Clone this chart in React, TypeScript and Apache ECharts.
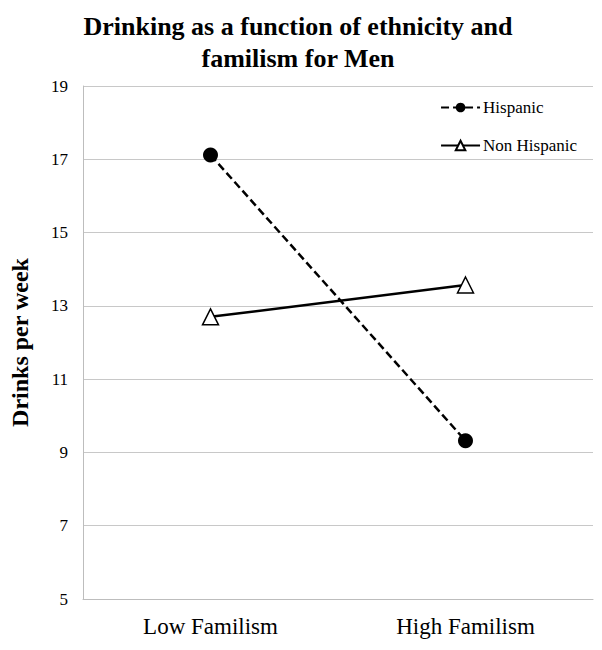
import React, { useEffect, useRef } from "react";
import * as echarts from "echarts";

const categories = ["Low Familism", "High Familism"];
const hispanic = [17.12, 9.32];
const nonHispanic = [12.7, 13.57];
const yTicks = { min: 5, max: 19, interval: 2 };

export default function App() {
  const ref = useRef<HTMLDivElement>(null);
  useEffect(() => {
    const chart = echarts.init(ref.current!, null, { renderer: "svg" });
    const font = "Liberation Serif";
    chart.setOption({
      animation: false,
      backgroundColor: "#ffffff",
      textStyle: { fontFamily: font },
      title: {
        text: "Drinking as a function of ethnicity and\nfamilism for Men",
        left: 293,
        textAlign: "center",
        top: 5,
        textStyle: { fontFamily: font, fontSize: 26, fontWeight: "bold", color: "#000", lineHeight: 32 },
      },
      legend: {
        orient: "vertical",
        right: 20,
        top: 94,
        itemGap: 21,
        itemWidth: 39,
        itemHeight: 12,
        textStyle: { fontFamily: font, fontSize: 17, color: "#000", padding: [0, 0, 0, -2] },
        data: ["Hispanic", "Non Hispanic"],
      },
      grid: { left: 67, right: 9, top: 86, bottom: 51, containLabel: false },
      xAxis: {
        type: "category",
        data: categories,
        boundaryGap: true,
        axisLine: { lineStyle: { color: "#bdbdbd", width: 1 } },
        axisTick: { show: false },
        axisLabel: { fontFamily: font, fontSize: 23, color: "#000", margin: 16 },
      },
      yAxis: {
        type: "value",
        min: yTicks.min,
        max: yTicks.max,
        interval: yTicks.interval,
        name: "Drinks per week",
        nameLocation: "middle",
        nameGap: 51,
        nameTextStyle: { fontFamily: font, fontSize: 24, fontWeight: "bold", color: "#000" },
        axisLine: { show: true, lineStyle: { color: "#bdbdbd", width: 1 } },
        axisTick: { show: false },
        axisLabel: { fontFamily: font, fontSize: 17, color: "#000", margin: 15 },
        splitLine: { lineStyle: { color: "#c8c8c8", width: 1 } },
      },
      series: [
        {
          name: "Hispanic",
          type: "line",
          data: hispanic,
          symbol: "circle",
          symbolSize: 15,
          itemStyle: { color: "#000" },
          lineStyle: { color: "#000", width: 2.5, type: [8, 4] },
        },
        {
          name: "Non Hispanic",
          type: "line",
          data: nonHispanic,
          symbol: "triangle",
          symbolSize: 16,
          itemStyle: { color: "#fff", borderColor: "#000", borderWidth: 1.5 },
          lineStyle: { color: "#000", width: 2.5 },
        },
      ],
    });
    return () => chart.dispose();
  }, []);
  return <div ref={ref} style={{ position: "fixed", left: 0, top: 0, width: 602, height: 650 }} />;
}
